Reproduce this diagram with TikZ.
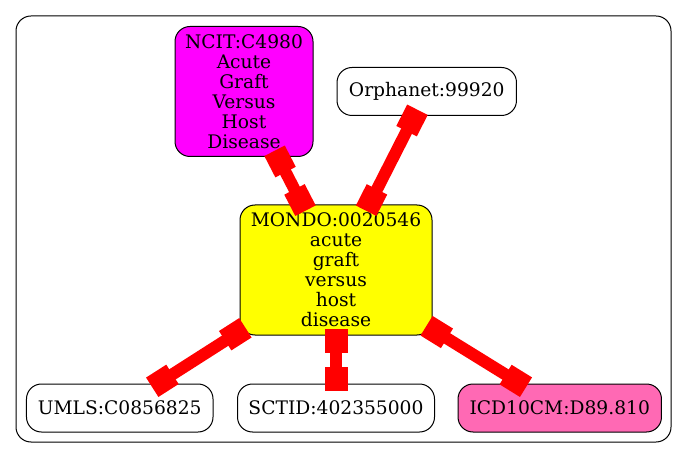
\documentclass[tikz,border=0pt]{standalone}
\usepackage{fontspec}
\setmainfont{DejaVu Serif}
\usetikzlibrary{arrows.meta}
\definecolor{hotpink}{HTML}{FF69B4}
\definecolor{edgered}{HTML}{FF0000}
\definecolor{ncitmag}{HTML}{FF00FF}
\definecolor{mondoyel}{HTML}{FFFF00}
\begin{document}
\begin{tikzpicture}[x=0.75pt,y=-0.75pt,
  nd/.style={draw=black, line width=0.75pt, rounded corners=11.25pt, align=center, inner sep=0pt,
    font=\fontsize{14}{15}\selectfont},
  small/.style={nd, minimum height=36pt},
  lnk/.style={draw=edgered, line width=9pt,
    {Rectangle[length=18pt,width=17.25pt]}-{Rectangle[length=18pt,width=17.25pt]},
    shorten <=-5.25pt, shorten >=-5.25pt}]
\useasboundingbox (0,0) rectangle (688,459);
\draw[line width=0.75pt, rounded corners=11.25pt] (16,16) rectangle (671,442);
\node[nd, fill=ncitmag, minimum width=103.5pt, minimum height=97.5pt] (ncit) at (244,91.5)
  {NCIT:C4980\\Acute\\Graft\\Versus\\Host\\Disease};
\node[small, fill=white, minimum width=134.6pt] (orpha) at (426.75,91.5) {Orphanet:99920};
\node[nd, fill=mondoyel, minimum width=144pt, minimum height=97.5pt] (mondo) at (336,270)
  {MONDO:0020546\\acute\\graft\\versus\\host\\disease};
\node[small, fill=white, minimum width=139.9pt] (umls) at (119.75,408) {UMLS:C0856825};
\node[small, fill=white, minimum width=147.75pt] (sctid) at (336,408) {SCTID:402355000};
\node[small, fill=hotpink, minimum width=152.6pt] (icd) at (559.75,408) {ICD10CM:D89.810};
\draw[lnk] (ncit) -- (mondo);
\draw[lnk] (orpha) -- (mondo);
\draw[lnk] (mondo) -- (umls);
\draw[lnk] (mondo) -- (sctid);
\draw[lnk] (mondo) -- (icd);
\end{tikzpicture}
\end{document}
